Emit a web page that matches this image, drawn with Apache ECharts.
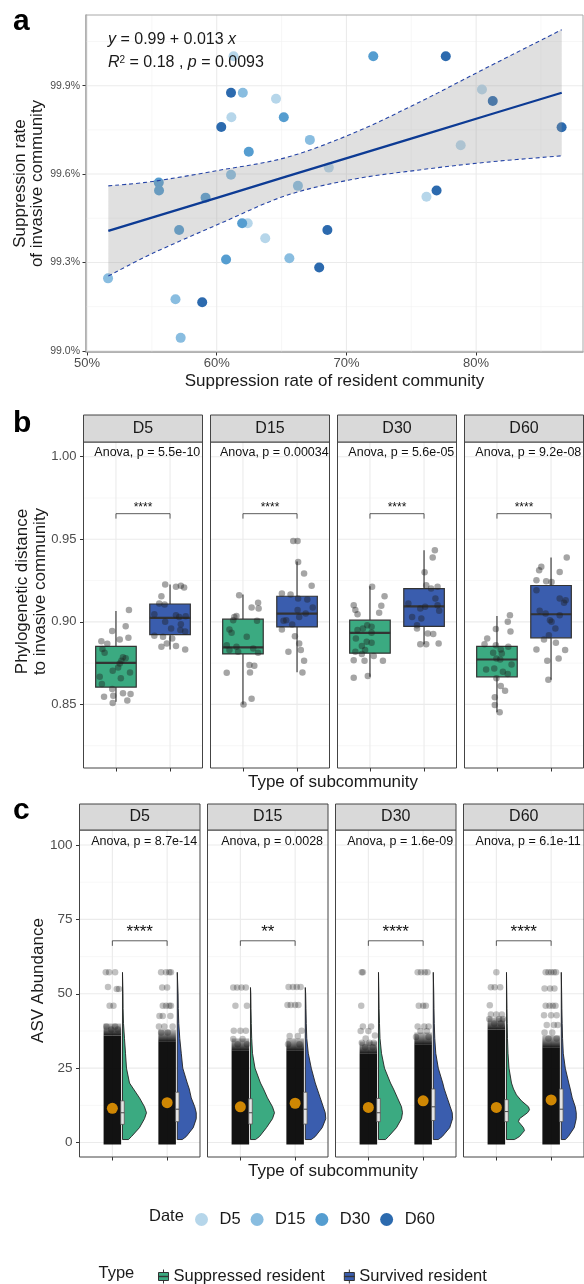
<!DOCTYPE html>
<html>
<head>
<meta charset="utf-8">
<title>Suppression rate and subcommunity panels</title>
<script src="https://cdn.jsdelivr.net/npm/echarts@6.0.0/dist/echarts.min.js"></script>
<style>
  html, body { margin: 0; padding: 0; background: #ffffff; }
  #chart { width: 584px; height: 1284px; }
</style>
</head>
<body>
<div id="chart"></div>
<script>
// ---------- data ----------
var dates = ['D5', 'D15', 'D30', 'D60'];
var boxTypes = ['Suppressed resident', 'Survived resident'];

// panel a: suppression rate (%) of resident (x) vs invasive (y) community
var residentD5  = [61.30, 64.57, 61.13, 80.45, 78.81, 68.64, 76.17, 62.39, 63.74];
var invasiveD5  = [100.0, 99.856, 99.793, 99.887, 99.698, 99.622, 99.523, 99.433, 99.382];
var residentD15 = [62.01, 67.18, 61.10, 66.26, 65.60, 51.62, 56.82, 57.22];
var invasiveD15 = [99.876, 99.716, 99.598, 99.560, 99.314, 99.246, 99.175, 99.044];
var residentD30 = [72.07, 65.17, 62.47, 55.53, 55.55, 59.14, 57.10, 61.96, 60.72];
var invasiveD30 = [100.0, 99.793, 99.676, 99.571, 99.544, 99.520, 99.410, 99.433, 99.310];
var residentD60 = [77.66, 61.10, 60.35, 81.28, 86.59, 76.95, 68.53, 67.90, 58.88];
var invasiveD60 = [100.0, 99.876, 99.760, 99.848, 99.759, 99.544, 99.410, 99.283, 99.165];
// fitted line and 95% band
var fitX     = [51.64, 55.06, 60.20, 65.34, 70.48, 75.62, 80.76, 86.60];
var fitY     = [99.407, 99.453, 99.522, 99.591, 99.660, 99.729, 99.798, 99.876];
var bandLow  = [99.254, 99.331, 99.431, 99.527, 99.582, 99.614, 99.640, 99.662];
var bandHigh = [99.560, 99.575, 99.613, 99.656, 99.738, 99.844, 99.960, 100.090];
var aTicksX = [50, 60, 70, 80], aMinorX = [55, 65, 75, 85];
var aTicksY = [99.0, 99.3, 99.6, 99.9], aMinorY = [99.15, 99.45, 99.75, 100.05];

// panel b: phylogenetic distance, box stats [low whisker, Q1, median, Q3, high whisker]
var phyloBoxSuppressed = [
  [0.8516, 0.8605, 0.8752, 0.8852, 0.9066],
  [0.8500, 0.8806, 0.8845, 0.9016, 0.9165],
  [0.8667, 0.8810, 0.8933, 0.9010, 0.9215],
  [0.8452, 0.8667, 0.8772, 0.8852, 0.9036]
];
var phyloBoxSurvived = [
  [0.8833, 0.8923, 0.9024, 0.9108, 0.9226],
  [0.8695, 0.8969, 0.9050, 0.9155, 0.9366],
  [0.8865, 0.8973, 0.9094, 0.9201, 0.9433],
  [0.8649, 0.8903, 0.9046, 0.9220, 0.9389]
];
var phyloSuppressed = [
  [0.9071, 0.8974, 0.8944, 0.8893, 0.8903, 0.8883, 0.8867, 0.8835, 0.8813, 0.8785, 0.8764, 0.8779, 0.8748, 0.8724, 0.8704, 0.8694, 0.8668, 0.8658, 0.8623, 0.8593, 0.8567, 0.8563, 0.8547, 0.8553, 0.8523, 0.8509],
  [0.9161, 0.9115, 0.9087, 0.9081, 0.9036, 0.9030, 0.9010, 0.9006, 0.8954, 0.8934, 0.8910, 0.8859, 0.8849, 0.8839, 0.8829, 0.8819, 0.8813, 0.8738, 0.8734, 0.8692, 0.8694, 0.8535, 0.8500],
  [0.9212, 0.9155, 0.9101, 0.9097, 0.9071, 0.9055, 0.9046, 0.8980, 0.8970, 0.8960, 0.8950, 0.8934, 0.8899, 0.8879, 0.8873, 0.8853, 0.8829, 0.8819, 0.8805, 0.8793, 0.8768, 0.8764, 0.8764, 0.8672, 0.8662],
  [0.9040, 0.9000, 0.8956, 0.8942, 0.8899, 0.8865, 0.8859, 0.8849, 0.8833, 0.8813, 0.8809, 0.8778, 0.8772, 0.8742, 0.8712, 0.8718, 0.8698, 0.8684, 0.8658, 0.8611, 0.8583, 0.8543, 0.8496, 0.8452]
];
var jitterSuppressed = [
  [0.24, 0.18, -0.07, 0.07, 0.23, -0.27, -0.16, -0.25, -0.21, 0.13, 0.10, 0.18, 0.07, 0.04, -0.06, 0.26, -0.30, 0.09, -0.26, -0.07, 0.13, 0.27, -0.22, -0.05, 0.21, -0.06],
  [-0.07, 0.28, 0.16, 0.29, -0.12, -0.16, -0.18, 0.26, -0.25, -0.21, 0.07, -0.30, -0.12, 0.19, -0.25, -0.09, 0.28, 0.12, 0.21, -0.30, 0.13, 0.16, 0.01],
  [0.04, 0.27, -0.30, 0.21, -0.27, 0.17, -0.23, -0.05, 0.03, -0.13, -0.23, 0.03, -0.26, -0.06, 0.03, -0.15, -0.09, -0.27, -0.15, 0.07, -0.30, -0.10, 0.24, -0.04, -0.30],
  [0.24, 0.20, -0.02, 0.25, -0.18, -0.23, -0.02, 0.21, 0.07, -0.07, 0.09, -0.01, 0.06, 0.27, -0.20, -0.05, 0.11, 0.20, -0.01, 0.07, 0.15, -0.04, -0.04, 0.05]
];
var phyloSurvived = [
  [0.9226, 0.9218, 0.9212, 0.9208, 0.9155, 0.9111, 0.9105, 0.9046, 0.9040, 0.9030, 0.9034, 0.9000, 0.8986, 0.8960, 0.8950, 0.8942, 0.8916, 0.8909, 0.8899, 0.8869, 0.8853, 0.8833, 0.8849],
  [0.9490, 0.9490, 0.9363, 0.9292, 0.9218, 0.9171, 0.9165, 0.9141, 0.9135, 0.9087, 0.9071, 0.9050, 0.9030, 0.9010, 0.9006, 0.8984, 0.8954, 0.8913, 0.8869, 0.8829, 0.8819, 0.8764, 0.8694],
  [0.9433, 0.9389, 0.9300, 0.9222, 0.9212, 0.9202, 0.9141, 0.9111, 0.9101, 0.9091, 0.9081, 0.9067, 0.9030, 0.9020, 0.8980, 0.8960, 0.8930, 0.8926, 0.8865, 0.8865, 0.8869],
  [0.9389, 0.9333, 0.9313, 0.9302, 0.9252, 0.9246, 0.9242, 0.9192, 0.9141, 0.9131, 0.9115, 0.9067, 0.9050, 0.9040, 0.9010, 0.9000, 0.8960, 0.8919, 0.8893, 0.8873, 0.8833, 0.8829, 0.8778, 0.8764, 0.8650]
];
var jitterSurvived = [
  [-0.09, 0.20, 0.11, 0.26, -0.16, -0.20, -0.10, -0.29, 0.11, 0.17, 0.29, -0.09, 0.20, 0.02, 0.19, 0.28, -0.29, -0.13, 0.04, -0.06, 0.11, 0.28, -0.16],
  [-0.07, 0.01, 0.02, 0.13, 0.27, -0.28, -0.12, 0.02, 0.19, 0.29, 0.01, 0.16, 0.04, -0.20, -0.25, -0.09, -0.28, -0.04, 0.04, 0.07, -0.16, 0.13, 0.10],
  [0.20, 0.16, 0.01, 0.04, 0.25, 0.13, 0.21, -0.29, 0.25, 0.02, -0.07, 0.28, -0.22, -0.05, -0.13, -0.13, 0.07, 0.17, -0.07, 0.04, 0.27],
  [0.29, -0.18, -0.22, 0.16, -0.27, -0.09, 0.01, -0.27, 0.16, 0.27, 0.24, -0.21, -0.10, 0.16, -0.02, 0.01, 0.08, -0.04, -0.13, 0.09, -0.27, 0.26, 0.14, -0.07, -0.05]
];
var anovaB = ['5.5e-10', '0.00034', '5.6e-05', '9.2e-08'];
var signifB = ['****', '****', '****', '****'];
var bTicksY = [0.85, 0.90, 0.95, 1.00], bMinorY = [0.825, 0.875, 0.925, 0.975];

// panel c: ASV abundance. box [Q1, median, Q3], means, densest jitter top, sparse upper points
var asvBoxSuppressed = [[6.1, 10.0, 14.0], [6.2, 10.0, 14.7], [7.0, 10.0, 14.8], [7.0, 10.4, 14.4]];
var asvBoxSurvived   = [[7.0, 11.2, 16.9], [6.2, 11.2, 16.9], [7.4, 12.0, 18.0], [7.0, 11.2, 18.0]];
var asvMeanSuppressed = [11.5, 12.0, 11.8, 11.8];
var asvMeanSurvived   = [13.4, 13.2, 14.0, 14.3];
var asvDenseTopSuppressed = [36, 31, 30, 38];
var asvDenseTopSurvived   = [34, 31, 33, 32];
// violin outline: [abundance, relative density]
var asvDensitySuppressed = [
  [[1, 6], [2, 9], [5, 17], [8, 22], [10, 24], [12, 22], [15, 17], [18, 11], [20, 7], [25, 4], [30, 3], [35, 2], [40, 1], [45, 0.6], [50, 0.5], [57.2, 0]],
  [[1, 5], [2, 9], [5, 16], [8, 22], [10, 24], [12, 22], [15, 17], [18, 13], [20, 10], [25, 4.5], [30, 2], [35, 1.2], [40, 0.8], [45, 0.5], [50, 0.3], [52.1, 0]],
  [[1, 7], [2, 10], [5, 18], [8, 23], [10, 24], [12, 23], [15, 19], [18, 15], [20, 12], [25, 6], [30, 3], [35, 1.5], [40, 1], [45, 0.6], [50, 0.4], [57.2, 0]],
  [[1, 8], [2, 13], [4, 18], [5, 17], [7, 12], [8, 13], [10, 21], [11, 23], [12, 22], [14, 15], [16, 10], [18, 7], [20, 5], [25, 2.5], [30, 1.5], [35, 1], [40, 0.7], [45, 0.5], [50, 0.3], [57.2, 0]]
];
var asvDensitySurvived = [
  [[1, 5], [2, 9], [5, 16], [8, 19], [10, 19], [12, 17.5], [15, 14], [18, 12], [20, 10], [25, 5.5], [30, 4], [35, 2.5], [40, 1.5], [45, 1], [50, 0.8], [57.2, 0]],
  [[1, 6], [2, 10], [5, 17], [8, 20.5], [10, 20], [12, 18], [15, 15], [18, 12], [20, 10], [25, 6], [30, 3], [35, 1.5], [40, 1], [45, 0.7], [50, 0.4], [52.1, 0]],
  [[1, 5], [2, 9], [5, 16.5], [8, 19.3], [10, 19], [12, 17], [15, 14], [18, 11], [20, 9.5], [25, 5], [30, 2.5], [35, 1.5], [40, 1], [45, 0.7], [50, 0.5], [57.2, 0]],
  [[1, 4], [2, 7], [5, 13], [8, 15], [10, 15], [12, 14], [15, 11], [18, 9], [20, 7.5], [25, 4], [30, 2], [35, 1.3], [40, 0.9], [45, 0.6], [50, 0.4], [57.2, 0]]
];
var asvSparseSuppressed = [
  [57.2, 57.2, 57.2, 52.3, 51.6, 51.6, 46, 46, 39, 39, 38, 38],
  [52.1, 52.1, 52.1, 52.1, 46, 46, 37.6, 37.6, 37.6, 34.8, 34.8, 33, 33],
  [57.2, 57.2, 46, 39, 39, 37.5, 37.5, 36, 35, 33.5, 33.5, 33.5, 32, 32],
  [57.2, 52.2, 52.2, 52.2, 46.1, 43, 43, 43, 41.5, 41.5, 41.5, 40, 40]
];
var asvJitterSuppressed = [
  [-0.12, -0.06, 0.05, -0.08, 0.08, 0.12, -0.05, 0.02, -0.11, 0.05, -0.02, 0.10],
  [-0.13, -0.06, 0.02, 0.10, -0.09, 0.12, -0.12, 0, 0.10, -0.13, 0.04, -0.05, 0.12],
  [-0.12, -0.10, -0.13, -0.10, 0.05, -0.14, 0, 0.12, -0.05, -0.12, 0.02, 0.10, -0.06, 0.08],
  [0, -0.10, -0.03, 0.07, -0.12, -0.10, 0, 0.10, -0.13, 0.05, 0.12, -0.04, 0.08]
];
var asvSparseSurvived = [
  [57.2, 57.2, 57.2, 57.2, 52.1, 52.1, 46, 46, 46, 46, 42.5, 42.5, 42.5, 39, 39, 39, 37, 37],
  [52.3, 52.3, 52.3, 52.3, 46.2, 46.2, 46.2, 46.2, 37.6, 35.8, 35.8, 33, 33],
  [57.2, 57.2, 57.2, 57.2, 46, 46, 46, 39, 39, 39, 37.5, 37.5, 35.5, 35.5],
  [57.2, 57.2, 57.2, 57.2, 57.2, 51.8, 51.8, 51.8, 46, 46, 46, 46, 42.8, 42.8, 42.8, 39.5, 39.5, 39.5, 37, 37, 35, 35]
];
var asvJitterSurvived = [
  [-0.11, -0.02, 0.04, 0.07, -0.09, 0, -0.08, -0.02, 0.04, 0.07, -0.14, -0.08, 0.06, -0.15, -0.05, 0.10, -0.11, 0.01],
  [-0.12, -0.04, 0.03, 0.10, -0.14, -0.08, 0, 0.06, 0.12, -0.10, 0.05, -0.13, 0.08],
  [-0.10, -0.04, 0.03, 0.08, -0.08, 0, 0.05, -0.10, 0.02, 0.10, -0.05, 0.07, -0.13, 0.10],
  [-0.10, -0.05, 0, 0.05, 0.09, -0.12, -0.02, 0.06, -0.10, -0.03, 0.03, 0.08, -0.13, 0, 0.10, -0.08, 0.05, 0.12, -0.12, 0.02, -0.05, 0.10]
];
var anovaC = ['8.7e-14', '0.0028', '1.6e-09', '6.1e-11'];
var signifC = ['****', '**', '****', '****'];
var cTicksY = [0, 25, 50, 75, 100], cMinorY = [12.5, 37.5, 62.5, 87.5];

// ---------- styling / layout ----------
var FONT = '"Liberation Sans", Arial, Helvetica, sans-serif';
var GREEN = '#3BAA81', BLUE = '#3A5DAE', ORANGE = '#FFA500';
var dateColors = ['#b6d6ea', '#89bde0', '#559dd0', '#2c6aae'];
var bLeft = [83.5, 210.5, 337.5, 464.5], bW = 119, bTop = 442, bH = 326;
var cLeft = [79.5, 207.5, 335.5, 463.5], cW = 120.5, cTop = 830, cH = 327;
var VSCALE = 0.01825;   // density units -> x units
var VOFF = 0.185;        // violin / small box offset from category

var chart = echarts.init(document.getElementById('chart'));

var grids = [], xAxes = [], yAxes = [], series = [], graphics = [];

// catmull-rom through pixel points, as svg path segments
function curveSegs(pts) {
  var d = '';
  for (var i = 0; i < pts.length - 1; i++) {
    var p0 = pts[Math.max(i - 1, 0)], p1 = pts[i], p2 = pts[i + 1], p3 = pts[Math.min(i + 2, pts.length - 1)];
    var c1x = p1[0] + (p2[0] - p0[0]) / 6, c1y = p1[1] + (p2[1] - p0[1]) / 6;
    var c2x = p2[0] - (p3[0] - p1[0]) / 6, c2y = p2[1] - (p3[1] - p1[1]) / 6;
    d += ' C' + c1x + ',' + c1y + ' ' + c2x + ',' + c2y + ' ' + p2[0] + ',' + p2[1];
  }
  return d;
}

function gridLineSeries(gi, xMajor, xMinor, yMajor, yMinor) {
  return {
    type: 'custom', xAxisIndex: gi, yAxisIndex: gi, silent: true, z: 1,
    data: [[xMajor[0], yMajor[0]]],
    renderItem: function (params, api) {
      var cs = params.coordSys, kids = [];
      function v(val, w, c) {
        var x = api.coord([val, yMajor[0]])[0];
        kids.push({type: 'line', shape: {x1: x, y1: cs.y, x2: x, y2: cs.y + cs.height}, style: {stroke: c, lineWidth: w}});
      }
      function h(val, w, c) {
        var y = api.coord([xMajor[0], val])[1];
        kids.push({type: 'line', shape: {x1: cs.x, y1: y, x2: cs.x + cs.width, y2: y}, style: {stroke: c, lineWidth: w}});
      }
      xMinor.forEach(function (t) { v(t, 0.6, '#f2f2f2'); });
      yMinor.forEach(function (t) { h(t, 0.6, '#f2f2f2'); });
      xMajor.forEach(function (t) { v(t, 1.1, '#ebebeb'); });
      yMajor.forEach(function (t) { h(t, 1.1, '#ebebeb'); });
      return {type: 'group', children: kids};
    }
  };
}

function annotSeries(gi, p, stars, brTop, brEnd, starY, anovaY, starSize) {
  return {
    type: 'custom', xAxisIndex: gi, yAxisIndex: gi, silent: true, z: 7,
    data: [[1.5, anovaY]],
    renderItem: function (params, api) {
      var a = api.coord([1, brEnd]), b = api.coord([1, brTop]), c = api.coord([2, brTop]), d = api.coord([2, brEnd]);
      var s = api.coord([1.5, starY]), t = api.coord([1.58, anovaY]);
      return {type: 'group', children: [
        {type: 'polyline', shape: {points: [a, b, c, d]}, style: {stroke: '#333', lineWidth: 0.8, fill: null}},
        {type: 'text', x: s[0], y: s[1] + starSize * 0.3, style: {text: stars, fontSize: starSize, fontFamily: FONT, fill: '#111', align: 'center', verticalAlign: 'middle'}},
        {type: 'text', x: t[0], y: t[1], style: {text: 'Anova, p = ' + p, fontSize: 12.5, fontFamily: FONT, fill: '#111', align: 'center', verticalAlign: 'middle'}}
      ]};
    }
  };
}

function facetAxes(gi, left, width, top, height, yMin, yMax, yTicks, showY, yFmt, ySize) {
  grids.push({left: left, top: top, width: width, height: height, show: true, backgroundColor: 'transparent', borderColor: '#444', borderWidth: 1, z: 10});
  xAxes.push({gridIndex: gi, type: 'value', min: 0.4, max: 2.6,
    axisLine: {show: false, onZero: false}, splitLine: {show: false}, axisLabel: {show: false},
    axisTick: {show: true, customValues: [1, 2], length: 3.5, lineStyle: {color: '#333'}}});
  yAxes.push({gridIndex: gi, type: 'value', min: yMin, max: yMax,
    axisLine: {show: false, onZero: false}, splitLine: {show: false},
    axisTick: {show: showY, customValues: yTicks, length: 3.5, lineStyle: {color: '#333'}},
    axisLabel: {show: showY, customValues: yTicks, formatter: yFmt, fontSize: ySize, color: '#4d4d4d', margin: 7, fontFamily: FONT}});
}

// ---------- panel a ----------
grids.push({left: 86, top: 15, width: 497, height: 337, show: true, backgroundColor: 'transparent', borderColor: '#a8a8a8', borderWidth: 1, z: 10});
xAxes.push({gridIndex: 0, type: 'value', min: 49.92, max: 88.24,
  axisLine: {show: true, onZero: false, lineStyle: {color: '#a8a8a8', width: 1.6}}, splitLine: {show: false},
  axisTick: {show: true, customValues: aTicksX, length: 3.5, lineStyle: {color: '#333'}},
  axisLabel: {customValues: aTicksX, formatter: function (v) { return v + '%'; }, fontSize: 13, color: '#4d4d4d', margin: 5, fontFamily: FONT}});
yAxes.push({gridIndex: 0, type: 'value', min: 98.996, max: 100.14,
  axisLine: {show: true, onZero: false, lineStyle: {color: '#a8a8a8', width: 1.6}}, splitLine: {show: false},
  axisTick: {show: true, customValues: aTicksY, length: 3.5, lineStyle: {color: '#333'}},
  axisLabel: {customValues: aTicksY, formatter: function (v) { return v.toFixed(1) + '%'; }, fontSize: 10.5, color: '#4d4d4d', margin: 6, fontFamily: FONT}});
series.push(gridLineSeries(0, aTicksX, aMinorX, aTicksY, aMinorY));

var resX = [residentD5, residentD15, residentD30, residentD60];
var invY = [invasiveD5, invasiveD15, invasiveD30, invasiveD60];
dates.forEach(function (d, k) {
  series.push({type: 'scatter', name: d, xAxisIndex: 0, yAxisIndex: 0, symbolSize: 10, z: 2, silent: true,
    itemStyle: {color: dateColors[k], opacity: 1},
    data: resX[k].map(function (x, i) { return [x, invY[k][i]]; })});
});
// confidence band (grey ribbon + dashed edges)
series.push({
  type: 'custom', xAxisIndex: 0, yAxisIndex: 0, silent: true, z: 3,
  data: fitX.map(function (x, i) { return [x, bandLow[i], bandHigh[i]]; }),
  renderItem: function (params, api) {
    if (params.dataIndex !== 0) return null;
    var up = fitX.map(function (x, i) { return api.coord([x, bandHigh[i]]); });
    var lo = fitX.map(function (x, i) { return api.coord([x, bandLow[i]]); });
    var loRev = lo.slice().reverse();
    var area = 'M' + up[0][0] + ',' + up[0][1] + curveSegs(up) + ' L' + loRev[0][0] + ',' + loRev[0][1] + curveSegs(loRev) + ' Z';
    var upPath = 'M' + up[0][0] + ',' + up[0][1] + curveSegs(up);
    var loPath = 'M' + lo[0][0] + ',' + lo[0][1] + curveSegs(lo);
    return {type: 'group', children: [
      {type: 'path', shape: {pathData: area}, style: {fill: 'rgba(153,153,153,0.3)', stroke: null}},
      {type: 'path', shape: {pathData: upPath}, style: {fill: null, stroke: '#2443a6', lineWidth: 1.1, lineDash: [4, 3]}},
      {type: 'path', shape: {pathData: loPath}, style: {fill: null, stroke: '#2443a6', lineWidth: 1.1, lineDash: [4, 3]}}
    ]};
  }
});
series.push({type: 'line', xAxisIndex: 0, yAxisIndex: 0, symbol: 'none', silent: true, z: 5,
  lineStyle: {color: '#0d3b94', width: 2.3},
  data: fitX.map(function (x, i) { return [x, fitY[i]]; })});

// ---------- panel b ----------
function phyloBoxSeries(gi, name, color, cat, s) {
  return {
    type: 'custom', name: name, xAxisIndex: gi, yAxisIndex: gi, z: 2, silent: true,
    itemStyle: {color: color, borderColor: '#333', borderWidth: 1},
    data: [[cat, s[0], s[1], s[2], s[3], s[4]]],
    renderItem: function (params, api) {
      var x = api.value(0), hw = 0.375;
      var pLo = api.coord([x, api.value(1)]), pQ1 = api.coord([x - hw, api.value(2)]);
      var pMd = api.coord([x - hw, api.value(3)]), pQ3 = api.coord([x + hw, api.value(4)]);
      var pHi = api.coord([x, api.value(5)]);
      var cx = pLo[0];
      return {type: 'group', children: [
        {type: 'line', shape: {x1: cx, y1: pHi[1], x2: cx, y2: pQ3[1]}, style: {stroke: '#4d4d4d', lineWidth: 1.3}},
        {type: 'line', shape: {x1: cx, y1: pQ1[1], x2: cx, y2: pLo[1]}, style: {stroke: '#4d4d4d', lineWidth: 1.3}},
        {type: 'rect', shape: {x: pQ1[0], y: pQ3[1], width: pQ3[0] - pQ1[0], height: pQ1[1] - pQ3[1]}, style: {fill: color, stroke: '#333', lineWidth: 1.2}},
        {type: 'line', shape: {x1: pMd[0], y1: pMd[1], x2: pQ3[0], y2: pMd[1]}, style: {stroke: '#333', lineWidth: 2.2}}
      ]};
    }
  };
}

for (var f = 0; f < 4; f++) {
  var gi = 1 + f;
  facetAxes(gi, bLeft[f], bW, bTop, bH, 0.8115, 1.0089, bTicksY, f === 0, function (v) { return v.toFixed(2); }, 13);
  series.push(gridLineSeries(gi, [1, 2], [], bTicksY, bMinorY));
  series.push(phyloBoxSeries(gi, boxTypes[0], GREEN, 1, phyloBoxSuppressed[f]));
  series.push(phyloBoxSeries(gi, boxTypes[1], BLUE, 2, phyloBoxSurvived[f]));
  var pts = [];
  phyloSuppressed[f].forEach(function (v, i) { pts.push([1 + jitterSuppressed[f][i], v]); });
  phyloSurvived[f].forEach(function (v, i) { pts.push([2 + jitterSurvived[f][i], v]); });
  series.push({type: 'scatter', xAxisIndex: gi, yAxisIndex: gi, symbolSize: 6.5, z: 3, silent: true,
    itemStyle: {color: 'rgba(30,30,30,0.5)'}, data: pts});
  series.push(annotSeries(gi, anovaB[f], signifB[f], 0.9655, 0.9625, 0.9716, 1.0024, 12));
}

// ---------- panel c ----------
function asvSeries(gi, name, color, cat, dens, box, top) {
  return {
    type: 'custom', name: name, xAxisIndex: gi, yAxisIndex: gi, z: 3, silent: true,
    itemStyle: {color: color, borderColor: '#333', borderWidth: 1},
    data: [[cat, box[1]]],
    renderItem: function (params, api) {
      var base = cat + VOFF, kids = [];
      var d0 = api.coord([cat - 0.16, top]), d1 = api.coord([cat + 0.16, 0]);
      var fTop = api.coord([cat - 0.16, top + 4]);
      kids.push({type: 'rect', shape: {x: d0[0], y: fTop[1], width: d1[0] - d0[0], height: d0[1] - fTop[1]},
        style: {fill: new echarts.graphic.LinearGradient(0, 0, 0, 1, [{offset: 0, color: 'rgba(0,0,0,0.25)'}, {offset: 1, color: 'rgba(0,0,0,0.9)'}])}});
      kids.push({type: 'rect', shape: {x: d0[0], y: d0[1], width: d1[0] - d0[0], height: d1[1] - d0[1] + 2},
        style: {fill: 'rgba(0,0,0,0.93)'}});
      var poly = [api.coord([base, dens[0][0]])];
      dens.forEach(function (d) { poly.push(api.coord([base + d[1] * VSCALE, d[0]])); });
      poly.push(api.coord([base, dens[dens.length - 1][0]]));
      kids.push({type: 'polygon', shape: {points: poly}, style: {fill: color, stroke: '#222', lineWidth: 0.9}});
      var bw = 0.033;
      var b1 = api.coord([base - bw, box[2]]), b2 = api.coord([base + bw, box[0]]);
      kids.push({type: 'rect', shape: {x: b1[0], y: b1[1], width: b2[0] - b1[0], height: b2[1] - b1[1]},
        style: {fill: '#e3e3e3', stroke: '#555', lineWidth: 0.8}});
      var m = api.coord([base, box[1]]);
      kids.push({type: 'line', shape: {x1: b1[0], y1: m[1], x2: b2[0], y2: m[1]}, style: {stroke: '#444', lineWidth: 1}});
      return {type: 'group', children: kids};
    }
  };
}

for (var g = 0; g < 4; g++) {
  var ci = 5 + g;
  facetAxes(ci, cLeft[g], cW, cTop, cH, -4.87, 105.04, cTicksY, g === 0, function (v) { return String(v); }, 13.5);
  series.push(gridLineSeries(ci, [1, 2], [], cTicksY, cMinorY));
  var sp = [];
  asvSparseSuppressed[g].forEach(function (v, i) { sp.push([1 + asvJitterSuppressed[g][i], v]); });
  asvSparseSurvived[g].forEach(function (v, i) { sp.push([2 + asvJitterSurvived[g][i], v]); });
  series.push({type: 'scatter', xAxisIndex: ci, yAxisIndex: ci, symbolSize: 6.5, z: 2, silent: true,
    itemStyle: {color: 'rgba(0,0,0,0.3)'}, data: sp});
  series.push(asvSeries(ci, boxTypes[0], GREEN, 1, asvDensitySuppressed[g], asvBoxSuppressed[g], asvDenseTopSuppressed[g]));
  series.push(asvSeries(ci, boxTypes[1], BLUE, 2, asvDensitySurvived[g], asvBoxSurvived[g], asvDenseTopSurvived[g]));
  series.push({type: 'scatter', xAxisIndex: ci, yAxisIndex: ci, symbolSize: 11, z: 6, silent: true,
    itemStyle: {color: ORANGE}, data: [[1, asvMeanSuppressed[g]], [2, asvMeanSurvived[g]]]});
  series.push(annotSeries(ci, anovaC[g], signifC[g], 67.8, 66.1, 72.5, 101.3, 17));
}

// ---------- text, strips ----------
function txt(x, y, s, size, o) {
  o = o || {};
  var st = {text: s, fontSize: size, fontFamily: FONT, fontWeight: o.bold ? 'bold' : 'normal',
    fill: o.color || '#1a1a1a', align: o.align || 'center', verticalAlign: 'middle'};
  if (o.lh) st.lineHeight = o.lh;
  if (o.rich) st.rich = o.rich;
  return {type: 'text', x: x, y: y, rotation: o.rot || 0, z: 100, silent: true, style: st};
}
graphics.push(txt(13, 22, 'a', 30, {bold: true, align: 'left', color: '#000'}));
graphics.push(txt(13, 424, 'b', 30, {bold: true, align: 'left', color: '#000'}));
graphics.push(txt(13, 811, 'c', 30, {bold: true, align: 'left', color: '#000'}));

var ital = {fontStyle: 'italic', fontSize: 16, fontFamily: FONT, fill: '#1a1a1a'};
graphics.push(txt(108, 40, '{i|y} = 0.99 + 0.013 {i|x}', 16, {align: 'left', rich: {i: ital}}));
graphics.push(txt(108, 63, '{i|R}{s|2} = 0.18 , {i|p} = 0.0093', 16, {align: 'left',
  rich: {i: ital, s: {fontSize: 10, fontFamily: FONT, fill: '#1a1a1a', verticalAlign: 'top', padding: [0, 0, 6, 0]}}}));

graphics.push(txt(28.5, 183.5, 'Suppression rate\nof invasive community', 17, {rot: Math.PI / 2, lh: 17}));
graphics.push(txt(334.5, 381.5, 'Suppression rate of resident community', 17));
graphics.push(txt(31, 591.5, 'Phylogenetic distance\nto invasive community', 17, {rot: Math.PI / 2, lh: 18}));
graphics.push(txt(333, 782, 'Type of subcommunity', 17));
graphics.push(txt(38.5, 980.5, 'ASV Abundance', 17, {rot: Math.PI / 2}));
graphics.push(txt(333, 1171, 'Type of subcommunity', 17));

for (var k = 0; k < 4; k++) {
  graphics.push({type: 'rect', z: 20, silent: true, shape: {x: bLeft[k], y: 415, width: bW, height: 27}, style: {fill: '#d9d9d9', stroke: '#444', lineWidth: 1}});
  graphics.push(txt(bLeft[k] + bW / 2, 428.5, dates[k], 16));
  graphics.push({type: 'rect', z: 20, silent: true, shape: {x: cLeft[k], y: 804, width: cW, height: 26}, style: {fill: '#d9d9d9', stroke: '#444', lineWidth: 1}});
  graphics.push(txt(cLeft[k] + cW / 2, 817, dates[k], 16));
}
graphics.push(txt(149, 1216, 'Date', 16.5, {align: 'left'}));
graphics.push(txt(98.5, 1273, 'Type', 16.5, {align: 'left'}));

chart.setOption({
  animation: false,
  backgroundColor: '#ffffff',
  textStyle: {fontFamily: FONT},
  grid: grids,
  xAxis: xAxes,
  yAxis: yAxes,
  legend: [
    {data: dates, left: 190, top: 1206, itemWidth: 26, itemHeight: 13, itemGap: 10, icon: 'circle', selectedMode: false,
      textStyle: {fontSize: 16.5, color: '#1a1a1a', fontFamily: FONT}},
    {data: boxTypes, left: 153, top: 1263, itemWidth: 10, itemHeight: 14, itemGap: 19, selectedMode: false,
      icon: 'path://M0,3L10,3L10,11L0,11Z M0,6.8L10,6.8L10,7.2L0,7.2Z M5,0L5,3 M5,11L5,14',
      itemStyle: {borderColor: '#333', borderWidth: 1},
      textStyle: {fontSize: 16.5, color: '#1a1a1a', fontFamily: FONT}}
  ],
  graphic: graphics,
  series: series
});
</script>
</body>
</html>
